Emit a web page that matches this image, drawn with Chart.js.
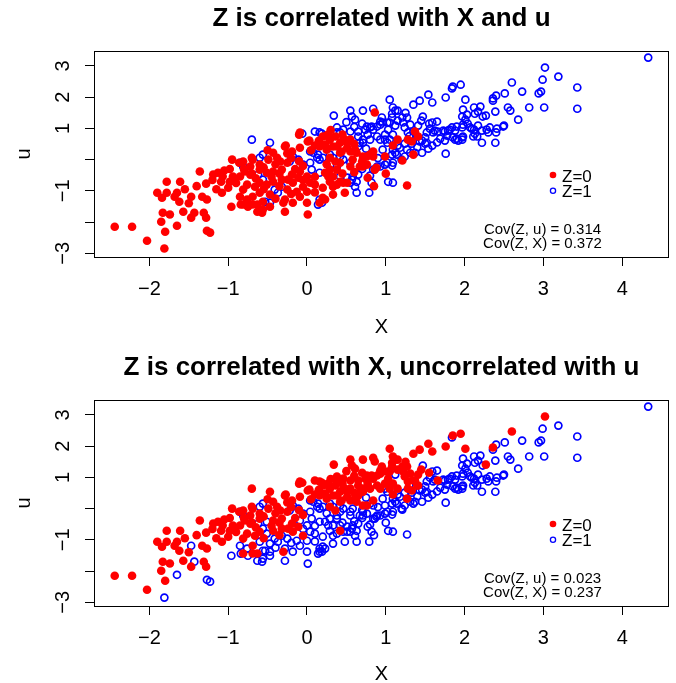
<!DOCTYPE html>
<html>
<head>
<meta charset="utf-8">
<script src="https://cdn.jsdelivr.net/npm/chart.js@4.4.0/dist/chart.umd.min.js"></script>
<style>
html, body { margin: 0; padding: 0; background: #fff; overflow: hidden; }
#wrap { position: relative; width: 676px; height: 683px; overflow: hidden; }
canvas { position: absolute; left: 0; }
</style>
</head>
<body>
<div id="wrap">
  <canvas id="chartTop" width="676" height="349" style="top:0px"></canvas>
  <canvas id="chartBottom" width="676" height="349" style="top:349px"></canvas>
</div>
<script>
// observations as [X, u]; grouped by Z in the first panel / second panel
var both0 = [
  [-0.95,0.00],[-0.86,-0.10],[-1.36,-0.38],[-1.13,-0.42],[-1.19,-0.48],[-1.05,-0.35],[-1.78,-0.71],[-1.61,-0.71],
  [-1.28,-0.77],[-1.09,-0.71],[-0.93,-0.64],[-1.90,-1.06],[-1.84,-1.22],[-1.78,-1.06],[-1.65,-1.06],[-1.68,-1.19],
  [-1.33,-1.19],[-1.27,-1.28],[-1.08,-1.06],[-1.83,-1.70],[-1.74,-1.76],[-1.57,-1.67],[-1.47,-1.86],[-1.31,-1.70],
  [-1.28,-1.86],[-1.85,-1.99],[-1.80,-2.31],[-2.44,-2.15],[-2.22,-2.15],[-2.03,-2.60],[-0.98,-0.71],[-1.07,-0.54],
  [-0.94,-0.54],[-0.63,-1.44],[-0.09,0.87],[0.01,0.58],[-0.28,0.42],[-0.19,0.26],[-0.09,0.38],[-0.43,0.22],
  [-0.38,0.06],[-0.49,0.00],[-0.60,-0.16],[-0.69,0.00],[-0.72,-0.22],[-0.81,-0.06],[-0.34,-0.06],[-0.25,-0.10],
  [-0.32,-0.32],[-0.43,-0.38],[-0.60,-0.32],[-0.72,-0.48],[-0.79,-0.38],[-0.85,-0.54],[-0.19,-0.48],[-0.11,-0.58],
  [-0.05,-0.87],[-0.18,-0.74],[-0.24,-0.64],[-0.32,-0.64],[-0.43,-0.71],[-0.60,-0.74],[-0.66,-0.87],[-0.76,-0.80],
  [-0.81,-0.96],[-0.69,-1.19],[0.23,0.48],[0.29,0.64],[0.27,0.80],[0.20,0.74],[0.16,0.42],[0.25,0.32],
  [0.33,0.42],[0.42,0.54],[0.48,0.64],[0.51,0.38],[0.55,0.26],[0.61,0.32],[0.44,0.26],[0.29,0.06],
  [0.36,-0.06],[0.42,-0.71],[0.71,0.10],[0.84,0.26],[0.86,1.51],[-0.81,-1.44],[-0.69,-1.44],[-0.30,-1.38],
  [-0.70,0.06],[-0.27,0.45],[0.03,0.61],[-0.10,0.80],[0.25,0.77],[1.37,0.90],[1.41,0.74],[1.33,0.58],
  [1.28,0.64],[1.15,0.64],[1.09,0.45],[0.76,0.10],[0.63,0.22],[0.46,0.64],[0.51,0.54],[0.55,0.64],
  [0.38,0.42],[0.42,0.22],[0.36,0.74],
  [-0.55,-0.25],[-0.45,-0.55],[-0.35,-0.45],[-0.15,-0.30],[-0.05,-0.20],[-0.65,-0.60],[-0.90,-0.75],[-0.98,-0.30],
  [-0.40,-0.15],[-0.20,0.05],[-0.10,-0.05],[0.05,0.30],[0.10,0.45],[-0.55,-0.95],[-0.35,-0.85],[-0.80,-0.30],
  [-1.00,-0.90],[-1.15,-0.95],[-1.20,-0.65],[-1.40,-0.85],[-1.50,-1.40],[-1.62,-1.35],[-1.55,-0.95],[-0.70,-0.45],
  [-0.50,0.30],[0.30,0.95],[0.45,0.80],[0.60,0.50],[0.15,0.60],[-0.25,0.20]
];
var top0bottom1 = [
  [-1.47,-1.19],[-0.96,-1.51],[-0.84,-1.44],[-1.43,-1.70],[-1.65,-2.12],[-1.27,-2.28],[-1.23,-2.34],[-1.81,-2.85],
  [-0.85,-1.19],[-0.76,-1.28],[-0.75,-1.51],[-0.56,-1.60],[-0.51,-0.42],[-0.09,-0.38],[0.00,-0.54],[0.04,-0.74],
  [-0.51,-0.80],[-0.25,-0.96],[-0.13,-1.03],[0.00,-1.03],[-0.47,-1.12],[-0.60,-1.06],[-0.56,-1.35],[-0.28,-1.28],
  [-0.18,-1.38],[-0.09,-1.19],[0.42,-0.10],[0.38,-0.32],[0.29,-0.32],[0.23,-0.42],[0.27,-0.54],[0.33,-0.54],
  [0.51,-0.74],[0.38,-0.80],[0.29,-0.71],[0.80,0.16],[0.76,-0.16],[0.67,-0.22],[0.86,-0.32],[0.77,-0.58],
  [0.99,0.10],[0.20,-1.22],[0.23,-1.28],[0.48,-1.06],[0.33,-1.12],[-0.63,-1.67],[-0.57,-1.70],[-0.47,-1.51],
  [-0.28,-1.67],[0.00,-1.38],[0.01,-1.76],[0.16,-1.38],[0.10,-0.80],[0.33,-0.87],[1.35,0.16],[1.21,-0.03],
  [0.84,0.10],[0.88,-0.26],[1.27,-0.83],[0.46,-0.74],[0.55,-0.22],[0.58,0.00],[0.71,-0.22],
  [-0.20,-1.10],[-0.40,-1.25],[0.10,-1.05],[0.20,-0.90],[0.45,-0.45],[0.60,-0.40],[0.10,-0.55],[-0.05,-0.65],
  [0.70,-0.05],[1.00,-0.45],[0.85,-0.85],[0.25,-0.15]
];
var top1bottom0 = [
  [3.02,2.95],[2.60,2.47],[2.36,1.96],[2.01,1.92],[1.95,2.40],[1.85,2.34],[1.76,1.99],[1.54,2.08],
  [1.59,1.83],[1.43,1.89],[1.35,1.76],[1.05,1.92],[1.09,1.67],[1.12,1.57],[1.08,1.47],[0.84,1.63],
  [0.71,1.57],[0.55,1.57],[0.57,1.38],[0.61,1.28],[0.34,1.41],[2.27,1.41],[1.27,1.35],[1.22,1.19],
  [1.15,1.57],[1.21,1.35],[0.96,1.19],[0.93,1.22],[0.89,1.06],[0.80,1.03],[0.76,1.06],[0.84,0.96],
  [1.05,1.19],[1.03,0.96],[1.41,1.09],[1.40,0.74],[1.35,0.90],[1.31,1.12],[1.66,0.90],[1.09,0.80],
  [0.55,0.90],[0.46,0.96],[0.42,0.87],[0.38,1.03],[0.38,0.87],[0.65,0.90],[0.74,0.96],[0.82,1.06],
  [0.93,1.12],[1.02,1.19],[0.10,0.90],[0.16,0.87],[-0.06,0.83],[0.19,0.83],[-0.70,0.64],[-0.47,0.54],
  [0.77,0.80],[0.71,0.64],[0.67,0.54],[0.65,0.74],[0.65,0.42],[0.71,0.54],[0.80,0.64],[0.89,0.74],
  [0.99,0.80],[0.93,0.64],[1.05,0.64],[1.27,0.32],[1.24,1.03],[1.28,0.87],[1.08,1.35],
  [1.15,1.25],[0.95,1.35],[1.25,1.50],[1.45,1.25],[0.50,1.20],[0.70,1.15],[1.55,1.15],[0.60,1.05]
];
var both1 = [
  [4.33,3.27],[2.99,2.56],[3.19,2.66],[3.43,2.31],[2.97,2.18],[2.94,2.12],[2.73,2.18],[2.51,2.12],
  [2.40,2.05],[2.36,1.89],[2.82,1.67],[3.01,1.67],[3.43,1.63],[2.55,1.67],[2.58,1.57],[2.68,1.28],
  [2.39,1.54],[2.23,1.38],[2.20,1.70],[2.17,1.54],[2.12,1.67],[1.84,2.28],[1.98,1.60],[2.03,1.44],
  [1.97,1.38],[2.01,1.28],[1.98,1.12],[1.97,1.03],[2.17,1.09],[2.12,0.96],[2.16,0.74],[2.11,0.74],
  [2.40,0.87],[2.49,1.06],[2.50,1.09],[2.39,0.54],[2.22,0.54],[2.28,0.96],[2.32,1.03],[2.07,1.03],
  [1.90,1.06],[1.81,0.96],[1.75,0.90],[1.98,0.74],[1.88,0.64],[1.97,0.64],[1.76,0.19],[1.65,1.22],
  [1.59,1.19],[1.47,1.38],[1.56,0.99],[1.60,0.87],[1.52,0.87],[1.50,0.71],[1.52,0.54],[1.43,0.58],
  [0.99,0.64],[1.31,0.22],[1.24,0.10],[1.09,0.32],[1.08,0.16],[1.14,0.16],[0.96,0.32],[0.99,-0.16],
  [1.08,-0.19],[1.09,-0.10],[0.89,-0.22],[0.84,-0.32],[0.71,-0.10],[0.65,-0.48],[0.58,-0.54],[0.57,-0.64],
  [0.63,-0.71],[0.80,-0.51],[0.82,-0.74],[1.09,-0.74],[0.63,-1.06],[0.79,-1.06],[0.29,0.16],[0.33,0.06],
  [2.13,1.47],[2.04,1.15],[2.09,0.99],[2.13,0.83],[2.22,0.93],[2.30,0.87],[2.41,0.99],[1.84,1.03],
  [1.88,0.93],[1.90,0.67],[1.97,0.71],[1.92,0.61],[1.12,1.09],[1.62,0.93],[1.73,0.93],[1.79,0.93],
  [1.78,0.77],[1.69,0.67],[1.75,0.61],[1.85,0.71],[1.46,0.61],[1.50,0.51],[1.33,0.51],[1.24,0.51],
  [1.18,0.38],[1.12,0.22],[1.46,0.22],[1.37,0.22],[1.54,0.35],[1.59,0.45],[0.04,0.26],[0.08,0.22],
  [0.13,0.06],[0.16,0.00],[0.20,0.06],[0.14,0.16],[-0.18,0.10],[-0.11,0.00],[-0.22,-0.06],[-0.05,-0.16],
  [0.04,-0.10],[0.06,-0.32],[0.16,-0.42],[-0.56,0.16],[-0.60,0.06],[-0.85,-0.10],[-0.81,-0.22],[-0.62,-0.48],
  [-0.56,-0.64],[-0.41,-0.96],[-0.32,-0.87],[-0.37,-1.06],[-0.53,-1.35],[-0.47,-1.38],[0.16,-1.28],[0.19,-1.38],
  [0.14,-1.44],[0.42,-0.54],[0.51,-0.58],[0.55,-0.74],[0.61,-0.87],[0.93,-0.22],[1.02,-0.10],[1.03,-0.71],
  [0.42,0.10],[0.46,0.00],[0.55,-0.10],[0.38,-0.22],[1.02,0.54],
  [1.20,0.00],[1.40,0.40],[1.65,0.55],[1.30,0.75],[0.75,0.35],[0.90,0.05],[0.70,-0.30],[1.15,0.45]
];

var panelTitles = ['Z is correlated with X and u', 'Z is correlated with X, uncorrelated with u'];
var covZu = ['0.314', '0.023'];
var covZX = ['0.372', '0.237'];
var legendLabels = ['Z=0', 'Z=1'];
var xTicks = [-2, -1, 0, 1, 2, 3, 4];
var yTicks = [-3, -2, -1, 0, 1, 2, 3];
var yLabels = [3, 2, 1, -1, -3];

var FONT = '"Liberation Sans", Arial, Helvetica, sans-serif';

function fmt(v) {
  return v < 0 ? '\u2212' + Math.abs(v) : String(v);
}
function toXY(list) {
  return list.map(function (p) { return { x: p[0], y: p[1] }; });
}

function panelDecor(idx) {
  return {
    id: 'decor' + idx,
    afterDraw: function (chart) {
      var ctx = chart.ctx, a = chart.chartArea, ys = chart.scales.y;
      ctx.save();
      ctx.strokeStyle = '#000';
      ctx.lineWidth = 1;
      ctx.strokeRect(Math.round(a.left) + 0.5, Math.round(a.top) + 0.5,
        Math.round(a.right - a.left) - 1, Math.round(a.bottom - a.top));

      ctx.fillStyle = '#000';
      ctx.textAlign = 'center';
      ctx.textBaseline = 'middle';
      ctx.font = 'bold 26px ' + FONT;
      ctx.fillText(panelTitles[idx], (a.left + a.right) / 2, 19);

      // R style rotated y labels
      ctx.font = '20px ' + FONT;
      yLabels.forEach(function (v) {
        ctx.save();
        ctx.translate(63, ys.getPixelForValue(v));
        ctx.rotate(-Math.PI / 2);
        ctx.fillText(fmt(v), 0, 0);
        ctx.restore();
      });

      // legend
      ctx.beginPath();
      ctx.fillStyle = '#ff0000';
      ctx.arc(553, 175, 3.3, 0, Math.PI * 2);
      ctx.fill();
      ctx.beginPath();
      ctx.strokeStyle = '#0000ff';
      ctx.lineWidth = 1.3;
      ctx.arc(553, 190.7, 2.6, 0, Math.PI * 2);
      ctx.stroke();
      ctx.fillStyle = '#000';
      ctx.textAlign = 'left';
      ctx.font = '17px ' + FONT;
      ctx.fillText(legendLabels[0], 562, 177.5);
      ctx.fillText(legendLabels[1], 562, 192.5);

      ctx.textAlign = 'center';
      ctx.font = '15px ' + FONT;
      ctx.fillText('Cov(Z, u) = ' + covZu[idx], 542.5, 230);
      ctx.fillText('Cov(Z, X) = ' + covZX[idx], 542.5, 244);
      ctx.restore();
    }
  };
}

function makeChart(canvasId, idx, red, blue) {
  return new Chart(document.getElementById(canvasId), {
    type: 'scatter',
    data: {
      datasets: [
        {
          label: legendLabels[0],
          data: toXY(red),
          pointRadius: 4.3,
          pointBackgroundColor: '#ff0000',
          pointBorderWidth: 0
        },
        {
          label: legendLabels[1],
          data: toXY(blue),
          pointRadius: 3.5,
          pointBackgroundColor: 'rgba(0,0,0,0)',
          pointBorderColor: '#0000ff',
          pointBorderWidth: 1.7
        }
      ]
    },
    options: {
      responsive: false,
      animation: false,
      events: [],
      layout: { padding: { left: 0, right: 7, top: 51, bottom: 0 } },
      plugins: { legend: { display: false }, tooltip: { enabled: false }, title: { display: false } },
      scales: {
        x: {
          type: 'linear',
          min: -2.703,
          max: 4.594,
          afterBuildTicks: function (s) { s.ticks = xTicks.map(function (v) { return { value: v }; }); },
          afterFit: function (s) { s.height = 92; },
          border: { display: false },
          grid: { drawOnChartArea: false, drawTicks: true, tickLength: 9, color: '#000' },
          ticks: {
            color: '#000', font: { size: 20, family: FONT }, padding: 11,
            maxRotation: 0, autoSkip: false,
            callback: function (v) { return fmt(v); }
          },
          title: { display: true, text: 'X', color: '#000', font: { size: 20, family: FONT },
                   padding: { top: 0, bottom: idx === 0 ? 10 : 12 } }
        },
        y: {
          type: 'linear',
          min: -3.12,
          max: 3.48,
          afterBuildTicks: function (s) { s.ticks = yTicks.map(function (v) { return { value: v }; }); },
          afterFit: function (s) { s.width = 94; },
          border: { display: false },
          grid: { drawOnChartArea: false, drawTicks: true, tickLength: 9, color: '#000' },
          ticks: { display: false },
          title: { display: true, text: 'u', color: '#000', font: { size: 20, family: FONT }, padding: { top: 12, bottom: 0 } }
        }
      }
    },
    plugins: [panelDecor(idx)]
  });
}

makeChart('chartTop', 0, both0.concat(top0bottom1), top1bottom0.concat(both1));
makeChart('chartBottom', 1, both0.concat(top1bottom0), top0bottom1.concat(both1));
</script>
</body>
</html>
